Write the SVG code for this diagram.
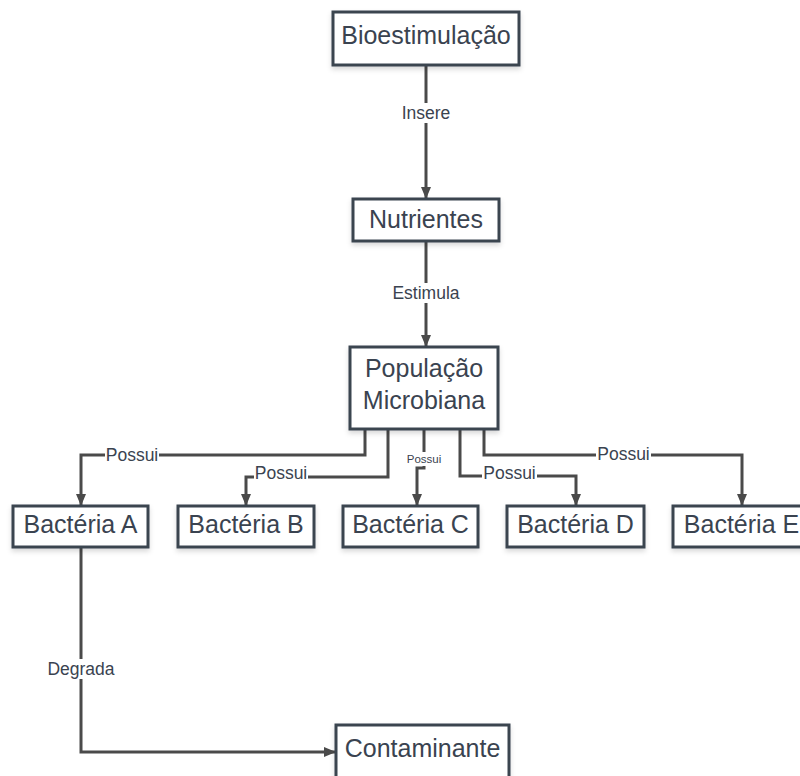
<svg xmlns="http://www.w3.org/2000/svg" width="800" height="776" viewBox="0 0 800 776">
  <style>
    .box { fill: #ffffff; stroke: #3b4550; stroke-width: 3; filter: url(#shadow); }
    .txt { font-family: "Liberation Sans", Arial, sans-serif; font-size: 25px; fill: #3a4350; text-anchor: middle; }
    .lbl { font-family: "Liberation Sans", Arial, sans-serif; font-size: 17.5px; fill: #3a4350; text-anchor: middle; }
    .sm { font-size: 11.5px; }
    .edge { fill: none; stroke: #4a4a4a; stroke-width: 3; marker-end: url(#arrow); }
    .bg { fill: #ffffff; }
  </style>
  <defs>
    <marker id="arrow" viewBox="0 0 12 12" refX="11" refY="6" markerWidth="12" markerHeight="12" markerUnits="userSpaceOnUse" orient="auto">
      <path d="M0,1 L12,6 L0,11 Z" fill="#4a4a4a"/>
    </marker>
    <filter id="shadow" x="-10%" y="-10%" width="120%" height="140%">
      <feDropShadow dx="0" dy="3" stdDeviation="2.5" flood-color="#000" flood-opacity="0.15"/>
    </filter>
  </defs>
  <rect width="800" height="776" fill="#ffffff"/>

  <g id="connectors">
    <path class="edge" d="M426,66 V198"/>
    <path class="edge" d="M426,242 V346"/>
    <path class="edge" d="M365,430 V455 H81 V505"/>
    <path class="edge" d="M388,430 V477 H246 V505"/>
    <path class="edge" d="M424,430 V468 H417 V505"/>
    <path class="edge" d="M460,430 V476 H576 V505"/>
    <path class="edge" d="M484,430 V455 H742 V505"/>
    <path class="edge" d="M81,548 V752 H335"/>
    <g id="edge-labels">
      <rect class="bg" x="400" y="103" width="52" height="20"/>
      <text class="lbl" x="426" y="119">Insere</text>
      <rect class="bg" x="389" y="283" width="74" height="20"/>
      <text class="lbl" x="426" y="299">Estimula</text>
      <rect class="bg" x="105" y="446" width="54" height="18"/>
      <text class="lbl" x="132" y="461">Possui</text>
      <rect class="bg" x="254" y="464" width="54" height="18"/>
      <text class="lbl" x="281" y="479">Possui</text>
      <rect class="bg" x="406" y="452" width="37" height="14"/>
      <text class="lbl sm" x="424" y="463">Possui</text>
      <rect class="bg" x="482" y="464" width="55" height="18"/>
      <text class="lbl" x="509.5" y="479">Possui</text>
      <rect class="bg" x="596" y="445" width="55" height="18"/>
      <text class="lbl" x="623.5" y="460">Possui</text>
      <rect class="bg" x="45" y="659" width="72" height="20"/>
      <text class="lbl" x="81" y="675">Degrada</text>
    </g>
  </g>

  <g id="bioestimulacao">
    <rect class="box" x="333" y="12" width="186" height="53"/>
    <text class="txt" x="426" y="44">Bioestimulação</text>
  </g>
  <g id="nutrientes">
    <rect class="box" x="353" y="199" width="146" height="42"/>
    <text class="txt" x="426" y="228">Nutrientes</text>
  </g>
  <g id="populacao-microbiana">
    <rect class="box" x="350" y="347" width="148" height="82"/>
    <text class="txt" x="424" y="377">População</text>
    <text class="txt" x="424" y="409">Microbiana</text>
  </g>
  <g id="bacteria-a">
    <rect class="box" x="13" y="506" width="135" height="41"/>
    <text class="txt" x="80.5" y="533">Bactéria A</text>
  </g>
  <g id="bacteria-b">
    <rect class="box" x="178" y="506" width="136" height="41"/>
    <text class="txt" x="246" y="533">Bactéria B</text>
  </g>
  <g id="bacteria-c">
    <rect class="box" x="343" y="506" width="135" height="41"/>
    <text class="txt" x="410.5" y="533">Bactéria C</text>
  </g>
  <g id="bacteria-d">
    <rect class="box" x="507" y="506" width="137" height="41"/>
    <text class="txt" x="575.5" y="533">Bactéria D</text>
  </g>
  <g id="bacteria-e">
    <rect class="box" x="673" y="506" width="137" height="41"/>
    <text class="txt" x="741.5" y="533">Bactéria E</text>
  </g>
  <g id="contaminante">
    <rect class="box" x="336" y="725" width="173" height="70"/>
    <text class="txt" x="422.5" y="757">Contaminante</text>
  </g>
</svg>
